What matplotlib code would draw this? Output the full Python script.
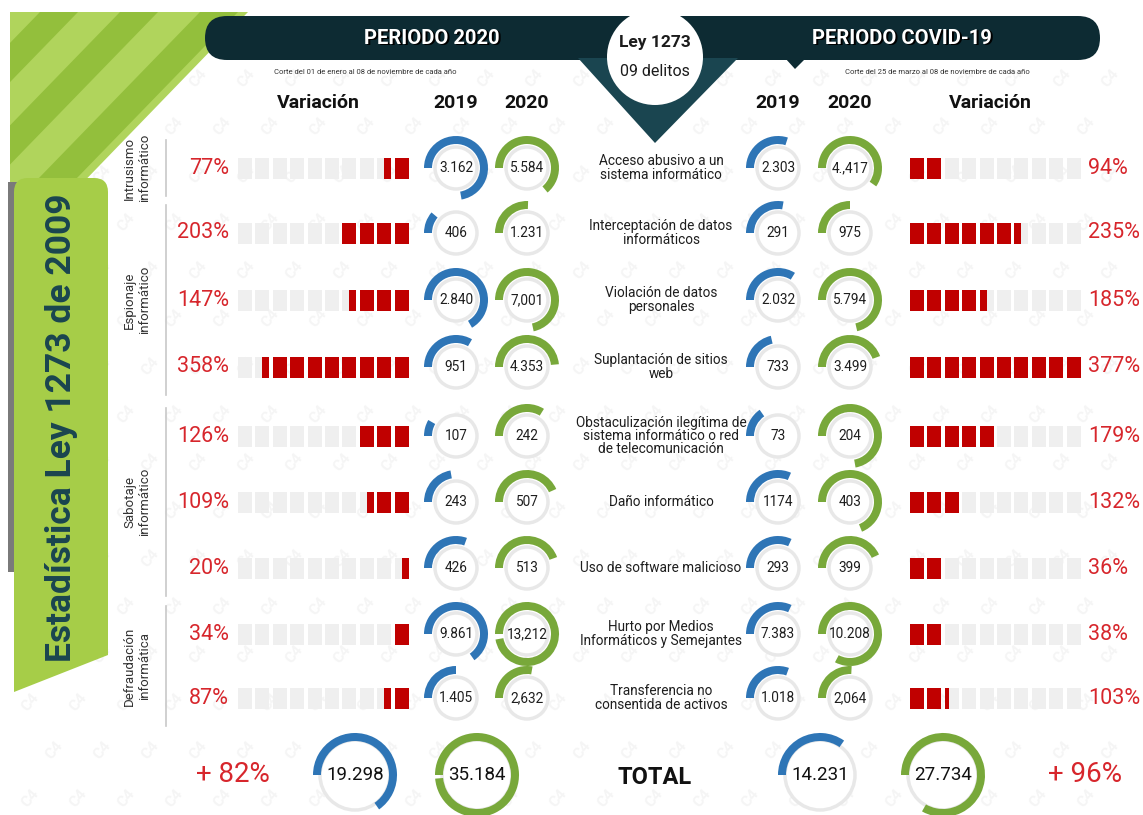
# Estadistica Ley 1273 de 2009 - infografia delitos informaticos
import matplotlib
matplotlib.use('Agg')
import matplotlib.pyplot as plt
from matplotlib.patches import Wedge, Circle, Rectangle, Polygon, FancyBboxPatch

plt.rcParams['font.family'] = ['Roboto', 'DejaVu Sans']

# ---- data ----
crimes = ['Acceso abusivo a un\nsistema informático',
          'Interceptación de datos\ninformáticos',
          'Violación de datos\npersonales',
          'Suplantación de sitios\nweb',
          'Obstaculización ilegítima de\nsistema informático o red\nde telecomunicación',
          'Daño informático',
          'Uso de software malicioso',
          'Hurto por Medios\nInformáticos y Semejantes',
          'Transferencia no\nconsentida de activos']
groups = ['Intrusismo\ninformático', 'Espionaje\ninformático',
          'Sabotaje\ninformático', 'Defraudación\ninformática']
group_first = [0, 1, 4, 7]
group_last = [0, 3, 6, 8]

p2020_2019 = ['3.162', '406', '2.840', '951', '107', '243', '426', '9.861', '1.405']
p2020_2020 = ['5.584', '1.231', '7,001', '4.353', '242', '507', '513', '13,212', '2,632']
covid_2019 = ['2.303', '291', '2.032', '733', '73', '1174', '293', '7.383', '1.018']
covid_2020 = ['4.,417', '975', '5.794', '3.499', '204', '403', '399', '10.208', '2,064']
var_2020 = ['77%', '203%', '147%', '358%', '126%', '109%', '20%', '34%', '87%']
var_covid = ['94%', '235%', '185%', '377%', '179%', '132%', '36%', '38%', '103%']

# filled blocks (of 10) in the variation bars
blocks_2020 = [1.5, 4, 3.5, 8.5, 3, 2.5, 0.5, 1, 1.5]
blocks_covid = [2, 6.5, 4.5, 10, 5, 3, 2, 2, 2.3]

# ring sweep in degrees, clockwise from the left
arc_2020_2019 = [260, 40, 240, 120, 30, 80, 110, 235, 90]
arc_2020_2020 = [230, 92, 258, 175, 122, 156, 160, 350, 100]
arc_covid_2019 = [108, 100, 122, 77, 55, 114, 115, 115, 110]
arc_covid_2020 = [215, 90, 257, 160, 260, 248, 155, 298, 93]

totals = ['19.298', '35.184', '14.231', '27.734']
arc_totals = [235, 355, 125, 300]
total_var = ['+ 82%', '+ 96%']

# ---- colours / layout ----
BLUE = '#2e75b6'
GREEN = '#78a83a'
RED = '#c00000'
RED_TXT = '#d7262c'
CELL = '#efefef'
DARK = '#0d2b33'
TEAL = '#1a4550'
LIME = '#a6cd48'

row_y = [168, 233, 300, 367, 436, 502, 568, 634, 698]
x_l19, x_l20, x_r19, x_r20 = 456, 527, 778, 850

fig = plt.figure(figsize=(11.43, 8.15), dpi=100)
ax = fig.add_axes([0, 0, 1, 1])
ax.set_xlim(0, 1143)
ax.set_ylim(815, 0)
ax.set_aspect('equal')
ax.axis('off')

# watermark
for j, wy in enumerate(range(30, 800, 48)):
    for wx in range(30 + (j % 2) * 24, 1120, 48):
        ax.text(wx, wy, 'C4', rotation=50, fontsize=11, color='#f5f5f5',
                ha='center', va='center', fontweight='bold', zorder=0)

# green corner with diagonal stripes
corner = Polygon([[10, 12], [248, 12], [10, 258]], closed=True, fc='#b0d45c', ec='none', zorder=1)
ax.add_patch(corner)
for c in [40, 120, 200]:
    s = Polygon([[c, 12], [c + 38, 12], [c + 38 - 260, 280], [c - 260, 280]], closed=True,
                fc='#93bf3c', ec='none', zorder=1)
    ax.add_patch(s)
    s.set_clip_path(corner)

# left title panel
ax.add_patch(Rectangle((8, 182), 10, 390, fc='#7a7a7a', ec='none', zorder=2))
ax.add_patch(FancyBboxPatch((14, 178), 94, 480, boxstyle='round,pad=0,rounding_size=14',
                            fc=LIME, ec='none', zorder=3))
ax.add_patch(Polygon([[14, 640], [108, 640], [108, 655], [14, 692]],
                     closed=True, fc=LIME, ec='none', zorder=3))
ax.text(62, 428, 'Estadística Ley 1273 de 2009', rotation=90, ha='center', va='center',
        fontsize=25.5, fontweight='bold', color=TEAL, zorder=4)

# header banner
ax.add_patch(FancyBboxPatch((205, 16), 895, 44, boxstyle='round,pad=0,rounding_size=22',
                            fc=DARK, ec='none', zorder=3))
ax.add_patch(Polygon([[578, 58], [738, 58], [655, 143]], closed=True, fc=TEAL, ec='none', zorder=3))
ax.add_patch(Polygon([[785, 58], [806, 58], [795, 69]], closed=True, fc=DARK, ec='none', zorder=3))
ax.add_patch(Circle((655, 57), 48, fc='white', ec='none', zorder=4))
ax.text(655, 43, 'Ley 1273', ha='center', va='center', fontsize=12.5, fontweight='bold',
        color='#1c1c1c', zorder=5)
ax.text(655, 72, '09 delitos', ha='center', va='center', fontsize=11.5, color='#1c1c1c', zorder=5)
for tx, tt in [(432, 'PERIODO 2020'), (902, 'PERIODO COVID-19')]:
    ax.text(tx + 1.5, 39.5, tt, ha='center', va='center', fontsize=14.5, fontweight='bold',
            color='black', zorder=4)
    ax.text(tx, 38, tt, ha='center', va='center', fontsize=14.5, fontweight='bold',
            color='white', zorder=5)
ax.text(365, 72, 'Corte del 01 de enero al 08 de noviembre de cada año', ha='center',
        va='center', fontsize=5.5, color='#333333', zorder=5)
ax.text(937, 72, 'Corte del 25 de marzo al 08 de noviembre de cada año', ha='center',
        va='center', fontsize=5.5, color='#333333', zorder=5)

# column headers
for hx, ht in [(318, 'Variación'), (x_l19, '2019'), (x_l20, '2020'),
               (x_r19, '2019'), (x_r20, '2020'), (990, 'Variación')]:
    ax.text(hx, 103, ht, ha='center', va='center', fontsize=14, fontweight='bold',
            color='#111111', zorder=5)

# group labels
for g, a, b in zip(groups, group_first, group_last):
    y0, y1 = row_y[a] - 28, row_y[b] + 28
    ax.plot([166, 166], [y0, y1], color='#c8c8c8', lw=1.2, zorder=2)
    ax.text(137, (y0 + y1) / 2, g, rotation=90, ha='center', va='center',
            fontsize=9.5, color='#333333', linespacing=1.15, zorder=5)


def ring(cx, cy, sweep, color, r_out=32, width=8, r_gray=21):
    ax.add_patch(Circle((cx, cy), r_gray, fc='white', ec='#e8e8e8', lw=2.5, zorder=3))
    ax.add_patch(Wedge((cx, cy), r_out, -180, -180 + sweep, width=width,
                       fc=color, ec='none', zorder=4))


def blocks(x0, y, filled, from_right):
    step, w, h = 17.4, 14, 21
    for i in range(10):
        cx = x0 + i * step
        ax.add_patch(Rectangle((cx, y - h / 2), w, h, fc=CELL, ec='none', zorder=3))
        k = (9 - i) if from_right else i
        part = min(max(filled - k, 0), 1)
        if part > 0:
            pw = w * part
            px = cx + w - pw if from_right else cx
            ax.add_patch(Rectangle((px, y - h / 2), pw, h, fc=RED, ec='none', zorder=4))


for i, y in enumerate(row_y):
    ax.text(229, y, var_2020[i], ha='right', va='center', fontsize=15.5, color=RED_TXT, zorder=5)
    blocks(238, y, blocks_2020[i], True)
    ring(x_l19, y, arc_2020_2019[i], BLUE)
    ring(x_l20, y, arc_2020_2020[i], GREEN)
    ax.text(x_l19, y, p2020_2019[i], ha='center', va='center', fontsize=9.8, color='#1e1e1e', zorder=5)
    ax.text(x_l20, y, p2020_2020[i], ha='center', va='center', fontsize=9.8, color='#1e1e1e', zorder=5)
    ax.text(661, y, crimes[i], ha='center', va='center', fontsize=9.8, color='#1e1e1e',
            linespacing=0.95, zorder=5)
    ring(x_r19, y, arc_covid_2019[i], BLUE)
    ring(x_r20, y, arc_covid_2020[i], GREEN)
    ax.text(x_r19, y, covid_2019[i], ha='center', va='center', fontsize=9.8, color='#1e1e1e', zorder=5)
    ax.text(x_r20, y, covid_2020[i], ha='center', va='center', fontsize=9.8, color='#1e1e1e', zorder=5)
    blocks(910, y, blocks_covid[i], False)
    ax.text(1088, y, var_covid[i], ha='left', va='center', fontsize=15.5, color=RED_TXT, zorder=5)

# totals row
ty = 775
tot_x = [355, 477, 820, 943]
tot_col = [BLUE, GREEN, BLUE, GREEN]
for tx, tv, ts, tc in zip(tot_x, totals, arc_totals, tot_col):
    ring(tx, ty, ts, tc, r_out=42, width=8, r_gray=35)
    ax.text(tx, ty, tv, ha='center', va='center', fontsize=13.5, color='#111111', zorder=5)
ax.text(233, ty, total_var[0], ha='center', va='center', fontsize=20, color=RED_TXT, zorder=5)
ax.text(1085, ty, total_var[1], ha='center', va='center', fontsize=20, color=RED_TXT, zorder=5)
ax.text(655, ty + 2, 'TOTAL', ha='center', va='center', fontsize=17, fontweight='bold',
        color='#111111', zorder=5)

fig.savefig('out.png', dpi=100, facecolor='white')
